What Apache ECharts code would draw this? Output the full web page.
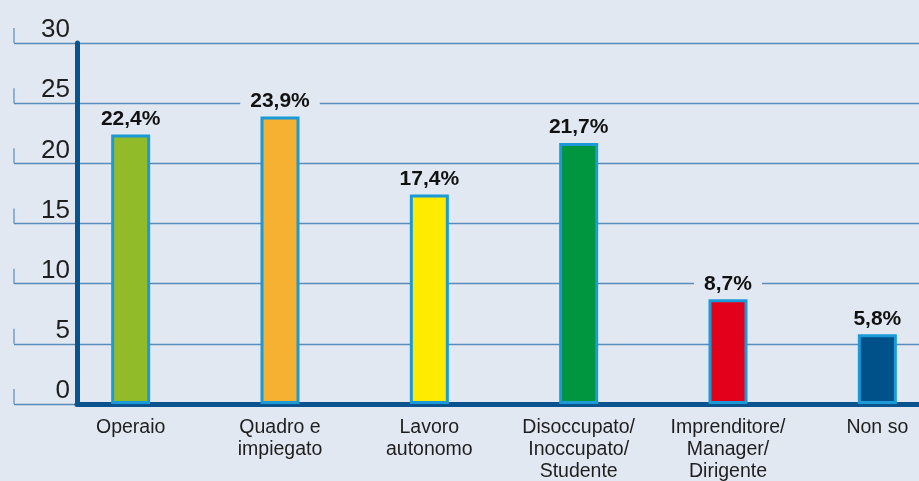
<!DOCTYPE html>
<html>
<head>
<meta charset="utf-8">
<script src="https://cdn.jsdelivr.net/npm/echarts@6/dist/echarts.min.js"></script>
<style>
  html, body { margin: 0; padding: 0; background: #e1e8f2; }
  #chart { width: 919px; height: 481px; }
</style>
</head>
<body>
<div id="chart"></div>
<script>
const categories = ['Operaio', 'Quadro e\nimpiegato', 'Lavoro\nautonomo', 'Disoccupato/\nInoccupato/\nStudente', 'Imprenditore/\nManager/\nDirigente', 'Non so']
const values = [22.4, 23.9, 17.4, 21.7, 8.7, 5.8]
const barColors = ['#92bb2a', '#f6b133', '#ffeb00', '#00953f', '#e2001a', '#00508a']
const yTicks = [0, 5, 10, 15, 20, 25, 30]

const bg = '#e1e8f2'
const gridColor = '#5b8bb8'
const axisColor = '#0b538c'
const font = "'Liberation Sans', Arial, sans-serif"

const chart = echarts.init(document.getElementById('chart'))

const option = {
  backgroundColor: bg,
  animation: false,
  textStyle: { fontFamily: font },
  grid: [
    // grid lines and y labels, full width
    { left: 14, right: 0, top: 43, bottom: 77, outerBoundsMode: 'none' },
    // bars (category band runs past the right edge)
    { left: 56, width: 896, top: 43, bottom: 77, outerBoundsMode: 'none' },
    // thick axes
    { left: 77, right: 0, top: 43, bottom: 77, outerBoundsMode: 'none' }
  ],
  xAxis: [
    { gridIndex: 0, type: 'value', min: 0, max: 1, show: false },
    {
      gridIndex: 1,
      type: 'category',
      data: categories,
      axisLine: { show: false },
      axisTick: { show: false },
      axisLabel: {
        color: '#1e1e1e',
        fontSize: 19.5,
        lineHeight: 22,
        margin: 13,
        interval: 0,
        fontFamily: font
      }
    },
    {
      gridIndex: 2,
      type: 'category',
      data: categories,
      axisLine: { show: true, lineStyle: { color: axisColor, width: 5 } },
      axisTick: { show: false },
      axisLabel: { show: false }
    }
  ],
  yAxis: [
    {
      gridIndex: 0,
      type: 'value',
      min: 0,
      max: 30,
      interval: 5,
      axisLine: { show: false },
      axisTick: { show: false },
      axisLabel: {
        color: '#1e1e1e',
        fontSize: 26,
        margin: -56,
        verticalAlign: 'bottom',
        lineHeight: 26,
        fontFamily: font
      },
      splitLine: { show: true, lineStyle: { color: gridColor, width: 1.3 } }
    },
    { gridIndex: 1, type: 'value', min: 0, max: 30, show: false },
    {
      gridIndex: 2,
      type: 'value',
      min: 0,
      max: 30,
      axisLine: { show: true, lineStyle: { color: axisColor, width: 5 } },
      axisTick: { show: false },
      axisLabel: { show: false },
      splitLine: { show: false }
    }
  ],
  series: [
    {
      // small vertical ticks at the left end of each grid line
      type: 'scatter',
      xAxisIndex: 0,
      yAxisIndex: 0,
      clip: false,
      silent: true,
      symbol: 'rect',
      symbolSize: [1.5, 15],
      symbolOffset: [0, -7.5],
      itemStyle: { color: gridColor },
      data: yTicks.map(t => [0, t])
    },
    {
      type: 'bar',
      xAxisIndex: 1,
      yAxisIndex: 1,
      barWidth: 39,
      data: values.map((v, i) => ({
        value: v,
        itemStyle: { color: barColors[i] }
      })),
      itemStyle: { borderColor: '#1b9ad7', borderWidth: 3 },
      label: {
        show: true,
        position: 'top',
        distance: 4,
        color: '#111',
        fontSize: 21,
        fontWeight: 'bold',
        fontFamily: font,
        backgroundColor: bg,
        padding: [1, 10, 1, 10],
        formatter: p => p.value.toFixed(1).replace('.', ',') + '%'
      }
    }
  ]
}

chart.setOption(option)
</script>
</body>
</html>
